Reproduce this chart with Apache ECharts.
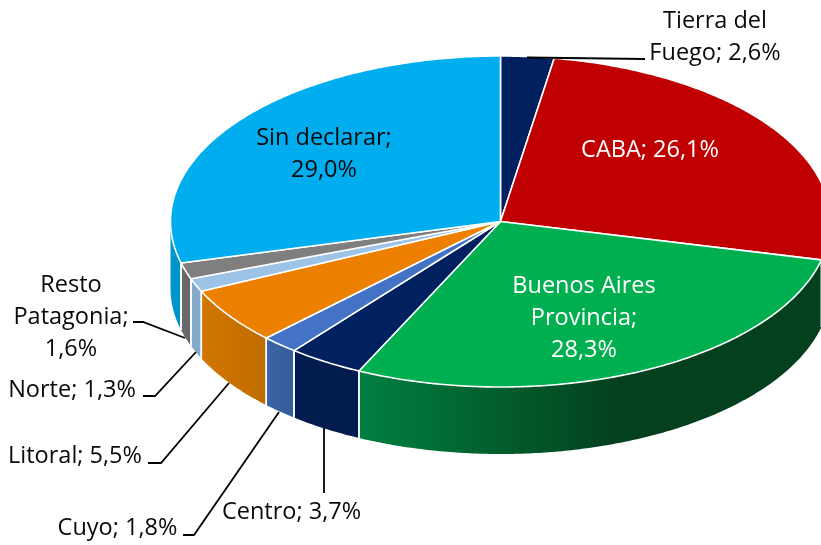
<!DOCTYPE html>
<html>
<head>
<meta charset="utf-8">
<style>html,body{margin:0;padding:0;background:#fff}#c{width:821px;height:545px}</style>
<script src="https://cdn.jsdelivr.net/npm/echarts@6/dist/echarts.min.js"></script>
</head>
<body>
<div id="c"></div>
<script>
// Data
const names = ['Tierra del Fuego','CABA','Buenos Aires Provincia','Centro','Cuyo','Litoral','Norte','Resto Patagonia','Sin declarar'];
const values = [2.6,26.1,28.3,3.7,1.8,5.5,1.3,1.6,29.0];
// Styles
const topColors = ['#002060','#C00000','#00B050','#002060','#4472C4','#ED8000','#9DC3E6','#7F7F7F','#00AEEF'];
const wallFrom  = ['#001a50','#8a0000','#008040','#021c4f','#3a65a6','#d27600','#85a9cb','#6a6a6a','#0098d0'];
const wallTo    = ['#001a50','#600000','#04401e','#021c4f','#365c98','#c06c00','#85a9cb','#666666','#0090c4'];
const wallStop  = [1,1,0.56,1,1,1,1,1,1];
// Label lines (wrapped as in the picture), anchor, colour
const labelLines = [['Tierra del','Fuego; '],['CABA; '],['Buenos Aires','Provincia;',''],['Centro; '],['Cuyo; '],['Litoral; '],['Norte; '],['Resto','Patagonia;',''],['Sin declarar;','']];
const labelPos = [[715,37],[650,150],[584,318.5],[291.5,512],[117.5,528],[75,456],[72,390],[71,317.5],[324,154]];
const labelColor = ['#0a0a0a','#fff','#fff','#0a0a0a','#0a0a0a','#0a0a0a','#0a0a0a','#0a0a0a','#0a0a0a'];
const leaders = [
  [[527,57.5],[645,59]],null,null,
  [[324,428],[324,493]],
  [[183,535],[194,535],[279,412]],
  [[148,463],[161,463],[229,383]],
  [[143,396],[155,396],[196,352]],
  [[133,322],[143,322],[185,338]],
  null
];
// Projection
const CX=500.5, CY=221.5, RX=330, RY=165.5, DEPTH=67;
const total = values.reduce((a,b)=>a+b,0);
const starts = []; values.reduce((a,v,i)=>{starts[i]=a;return a+v;},0);
const toT = v => v/total*Math.PI*2;
const pt = (t,dy) => [CX+RX*Math.sin(t), CY-RY*Math.cos(t)+(dy||0)];
function arc(a,b,dy){ const n=Math.max(2,Math.ceil((b-a)/0.01)); const o=[]; for(let i=0;i<=n;i++) o.push(pt(a+(b-a)*i/n,dy)); return o; }

function renderItem(params, api){
  const i = params.dataIndex, v = api.value(0);
  const a = toT(starts[i]), b = toT(starts[i]+v);
  const kids = [];
  const wa = Math.max(a,Math.PI/2), wb = Math.min(b,Math.PI*1.5);
  if (wb>wa){
    const pts = arc(wa,wb,0).concat(arc(wa,wb,DEPTH).reverse());
    kids.push({type:'polygon',z2:1,shape:{points:pts},style:{
      fill:new echarts.graphic.LinearGradient(0,0,1,0,[{offset:0,color:wallFrom[i]},{offset:wallStop[i],color:wallTo[i]},{offset:1,color:wallTo[i]}]),
      stroke:null}});
    [wa,wb].forEach(t=>{
      if (t>Math.PI/2+1e-6 && t<Math.PI*1.5-1e-6)
        kids.push({type:'polyline',z2:2,shape:{points:[pt(t,0),pt(t,DEPTH)]},style:{stroke:'#fff',lineWidth:1.5,fill:null}});
    });
  }
  const top = [[CX,CY]].concat(arc(a,b,0));
  kids.push({type:'polygon',z2:3,shape:{points:top},style:{fill:topColors[i],stroke:'#fff',lineWidth:1.6,lineJoin:'round'}});
  if (leaders[i]) kids.push({type:'polyline',z2:5,shape:{points:leaders[i]},style:{stroke:'#000',lineWidth:1.8,fill:null}});
  const pct = v.toFixed(1).replace('.',',')+'%';
  const ls = labelLines[i].slice(); ls[ls.length-1]+=pct;
  kids.push({type:'text',z2:6,x:labelPos[i][0],y:labelPos[i][1],style:{
    text:ls.join('\n'),fill:labelColor[i],font:'23.5px "Open Sans"',lineHeight:32,align:'center',verticalAlign:'middle'}});
  return {type:'group',children:kids};
}

const chart = echarts.init(document.getElementById('c'),null,{renderer:'canvas'});
chart.setOption({
  animation:false,
  backgroundColor:'#fff',
  series:[{
    type:'custom',
    coordinateSystem:'none',
    renderItem,
    clip:false,
    data:values.map((v,i)=>({name:names[i],value:[v]}))
  }]
});
</script>
</body>
</html>
